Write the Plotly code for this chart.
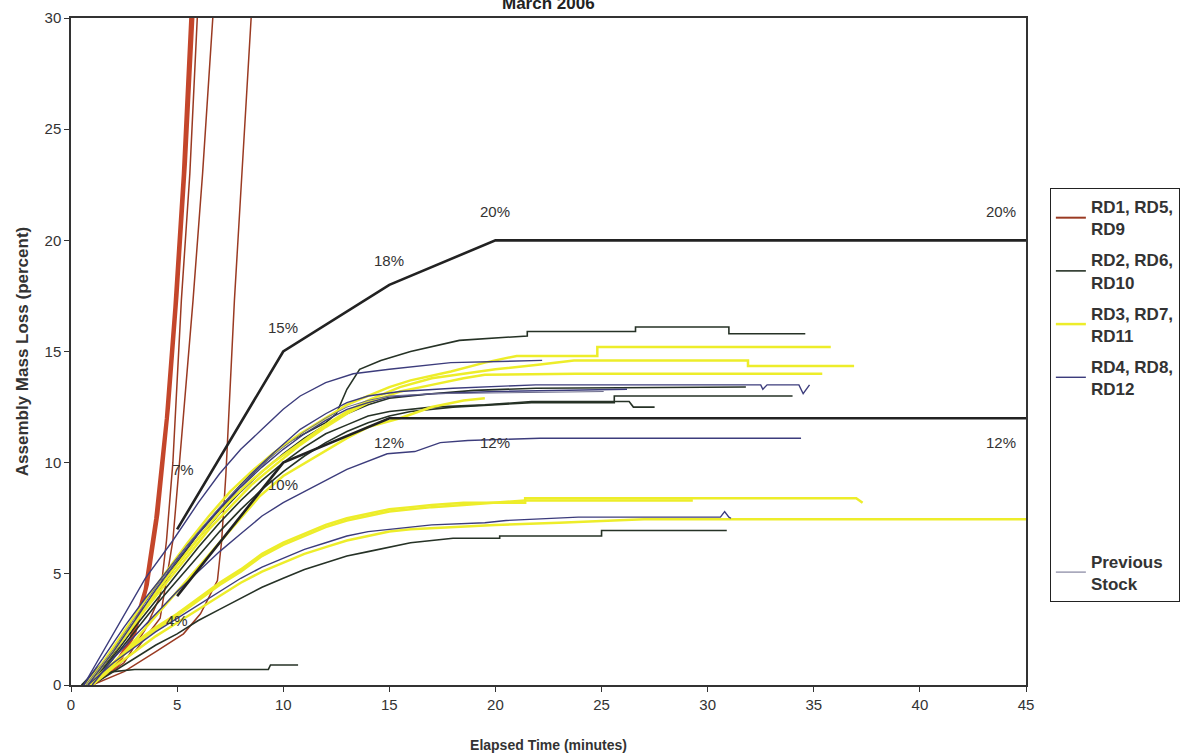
import plotly.graph_objects as go

# ---------------- data ----------------
# RD1, RD5, RD9 (red) : very steep curves
red1_x = [0.9, 2.0, 2.8, 3.5, 4.0, 4.5, 4.9, 5.3, 5.7]
red1_y = [0.0, 0.8, 2.0, 4.3, 7.5, 12.0, 17.0, 23.0, 31.0]
red2_x = [1.0, 2.2, 3.0, 3.6, 4.1, 4.6, 5.0, 5.4, 5.8]
red2_y = [0.0, 0.9, 2.3, 4.5, 7.7, 12.5, 17.5, 23.5, 31.0]
red3_x = [1.0, 2.5, 3.5, 4.2, 4.5, 4.8, 5.2, 5.6, 6.0]
red3_y = [0.0, 1.0, 2.5, 4.0, 6.5, 10.0, 17.3, 23.0, 31.0]
red4_x = [1.0, 3.0, 4.2, 4.8, 5.2, 5.75, 6.2, 6.75]
red4_y = [0.0, 1.5, 3.0, 6.5, 11.0, 17.3, 23.0, 31.0]
red5_x = [1.0, 2.5, 4.0, 5.3, 6.1, 6.9, 7.1, 7.3, 7.7, 8.1, 8.55]
red5_y = [0.0, 0.6, 1.5, 2.3, 3.2, 4.7, 6.5, 9.5, 17.3, 23.5, 31.0]

# RD2, RD6, RD10 (dark green)
grn_a_x = [0.5, 2, 4, 6, 8, 10, 12, 12.5, 13, 13.6, 14.6, 16, 18.3, 21.5, 21.5, 26.6, 26.6, 31, 31, 34.6]
grn_a_y = [0.0, 1.5, 4.2, 6.8, 9.0, 10.8, 11.8, 12.2, 13.3, 14.2, 14.6, 15.0, 15.5, 15.7, 15.9, 15.9, 16.1, 16.1, 15.8, 15.8]
grn_b_x = [1, 2, 3, 4, 5, 6, 7, 8, 9, 10, 11, 12, 13, 14, 15, 16, 18, 21.7, 25.6, 25.6, 34.0]
grn_b_y = [0.0, 1.2, 2.4, 3.6, 4.7, 5.8, 6.9, 7.9, 8.8, 9.6, 10.3, 10.9, 11.4, 11.8, 12.1, 12.3, 12.5, 12.7, 12.7, 13.0, 13.0]
grn_c_x = [0.9, 2, 3, 4, 5, 6, 7, 8, 9, 10, 11, 12, 13, 14, 15, 17, 19.5, 21.7, 26.3, 26.5, 27.5]
grn_c_y = [0.0, 1.3, 2.6, 3.8, 5.0, 6.2, 7.3, 8.3, 9.2, 10.0, 10.7, 11.3, 11.7, 12.1, 12.3, 12.5, 12.6, 12.75, 12.75, 12.5, 12.5]
grn_d_x = [0.8, 2, 3, 4, 5, 6, 7, 8, 9, 10, 11, 12, 13, 14, 15, 17, 19, 21.9, 31.8]
grn_d_y = [0.0, 1.4, 2.8, 4.1, 5.4, 6.6, 7.7, 8.7, 9.6, 10.4, 11.1, 11.7, 12.2, 12.6, 12.9, 13.1, 13.25, 13.35, 13.4]
grn_e_x = [1, 2, 3, 4, 5, 6, 7, 8, 9, 10, 11, 12, 13, 14, 15, 16, 17, 18, 20.2, 20.2, 25, 25, 30.9]
grn_e_y = [0.0, 0.6, 1.2, 1.8, 2.3, 2.9, 3.4, 3.9, 4.4, 4.8, 5.2, 5.5, 5.8, 6.0, 6.2, 6.4, 6.5, 6.6, 6.6, 6.7, 6.7, 6.95, 6.95]
grn_f_x = [0.5, 1.0, 1.5, 2.0, 3.0, 9.3, 9.4, 10.7]
grn_f_y = [0.0, 0.3, 0.5, 0.6, 0.7, 0.7, 0.9, 0.9]

# RD3, RD7, RD11 (yellow)
yel_a_x = [0.7, 1.5, 2.5, 3.5, 4.5, 5.5, 6.5, 7.5, 8.5, 9.5, 10.8, 12, 13, 14, 15, 16, 17.9, 19.5, 21, 24.8, 24.8, 35.8]
yel_a_y = [0.0, 1.0, 2.4, 3.8, 5.1, 6.4, 7.6, 8.7, 9.6, 10.4, 11.3, 12.0, 12.6, 13.0, 13.4, 13.7, 14.1, 14.5, 14.8, 14.8, 15.2, 15.2]
yel_b_x = [0.8, 1.5, 2.5, 3.5, 4.5, 5.5, 6.5, 7.5, 8.5, 9.5, 10.8, 12, 13, 14, 15.5, 17, 18.5, 20, 22, 23.7, 31.9, 31.9, 36.9]
yel_b_y = [0.0, 0.9, 2.2, 3.5, 4.8, 6.0, 7.2, 8.3, 9.2, 10.0, 10.9, 11.7, 12.3, 12.8, 13.4, 13.8, 14.0, 14.2, 14.4, 14.6, 14.6, 14.35, 14.35]
yel_c_x = [0.8, 1.5, 2.5, 3.5, 4.5, 5.5, 6.5, 7.5, 8.5, 9.5, 10.8, 12, 13, 14, 15.5, 17, 18.5, 19.5, 23.8, 35.4]
yel_c_y = [0.0, 0.9, 2.1, 3.4, 4.6, 5.8, 7.0, 8.0, 9.0, 9.8, 10.8, 11.6, 12.2, 12.7, 13.2, 13.5, 13.8, 13.95, 14.0, 14.0]
yel_d_x = [1, 2, 3, 4, 5, 6, 7, 8, 8.9, 10, 11.6, 13, 14, 15.5, 17, 18.5, 19.5]
yel_d_y = [0.0, 0.9, 2.0, 3.1, 4.2, 5.3, 6.4, 7.5, 8.5, 9.4, 10.3, 11.1, 11.6, 12.0, 12.5, 12.8, 12.9]
yel_e_x = [0.8, 2, 3, 4, 5, 6, 7, 8, 9, 10, 11, 12, 13, 14, 15, 16, 17, 18.5, 21.4, 21.4, 37.0, 37.3]
yel_e_y = [0.0, 1.0, 1.9, 2.6, 3.2, 3.9, 4.6, 5.2, 5.9, 6.4, 6.8, 7.2, 7.5, 7.7, 7.9, 8.0, 8.1, 8.2, 8.2, 8.4, 8.4, 8.2]
yel_f_x = [0.9, 2, 3, 4, 5, 6, 7, 8, 9, 10, 11, 12, 13, 14, 15, 16, 17, 18.5, 21.4, 29.3]
yel_f_y = [0.0, 0.95, 1.8, 2.5, 3.1, 3.8, 4.5, 5.1, 5.8, 6.3, 6.7, 7.1, 7.4, 7.6, 7.8, 7.9, 8.0, 8.1, 8.3, 8.3]
yel_g_x = [1, 2, 3, 4, 5, 6, 7, 8, 9, 10, 11, 12, 13, 14, 15, 16, 18, 20, 23, 27, 45]
yel_g_y = [0.0, 0.8, 1.5, 2.2, 2.8, 3.4, 4.0, 4.6, 5.1, 5.5, 5.9, 6.2, 6.5, 6.7, 6.9, 7.0, 7.1, 7.2, 7.3, 7.45, 7.45]

# RD4, RD8, RD12 (navy)
nav_a_x = [0.6, 1.5, 2.5, 3.5, 4.8, 6, 7, 8, 9, 10, 10.8, 12, 13.3, 15, 17.9, 22.2]
nav_a_y = [0.0, 1.5, 3.2, 4.8, 6.5, 8.2, 9.5, 10.6, 11.5, 12.4, 13.0, 13.6, 14.0, 14.2, 14.5, 14.6]
nav_b_x = [0.6, 1.5, 2.5, 3.5, 4.5, 5.5, 6.5, 7.5, 8.5, 9.5, 10.8, 12, 13, 14, 15.5, 18, 21.9, 32.5, 32.6, 32.8, 34.3, 34.5, 34.8]
nav_b_y = [0.0, 1.2, 2.6, 3.9, 5.1, 6.3, 7.4, 8.5, 9.5, 10.4, 11.5, 12.2, 12.7, 13.0, 13.2, 13.35, 13.5, 13.5, 13.3, 13.5, 13.5, 13.1, 13.5]
nav_c_x = [0.8, 2, 3, 4, 5, 6, 7, 8, 9, 10, 11, 12, 13, 14, 15, 17, 20, 26.2]
nav_c_y = [0.0, 1.5, 2.9, 4.3, 5.6, 6.8, 7.9, 8.9, 9.8, 10.6, 11.3, 11.9, 12.4, 12.7, 12.95, 13.1, 13.2, 13.3]
nav_d_x = [1, 2, 3, 4, 5, 6, 7, 8, 9, 10, 11, 11.6, 13, 14.9, 16.2, 17.4, 18.7, 22.1, 34.4]
nav_d_y = [0.0, 1.2, 2.2, 3.2, 4.2, 5.1, 6.0, 6.8, 7.6, 8.2, 8.7, 9.0, 9.7, 10.4, 10.5, 10.9, 11.0, 11.1, 11.1]
nav_e_x = [0.8, 2, 3, 4, 5, 6, 7, 8, 9, 10, 11, 12, 13, 14, 15, 17, 19.5, 20.5, 23.9, 30.6, 30.8, 31.0, 31.1]
nav_e_y = [0.0, 1.0, 1.7, 2.4, 3.0, 3.6, 4.2, 4.8, 5.3, 5.7, 6.1, 6.4, 6.7, 6.9, 7.0, 7.2, 7.3, 7.4, 7.55, 7.55, 7.8, 7.55, 7.5]

# Previous stock
prev_x = [0.7, 2, 3, 4, 5, 6, 7, 8, 9, 10, 11, 12, 13, 14, 15, 17, 25.1]
prev_y = [0.0, 1.6, 3.0, 4.4, 5.7, 6.9, 8.0, 9.0, 9.9, 10.7, 11.4, 12.0, 12.5, 12.8, 13.0, 13.1, 13.2]

# Limit lines
upper_x = [5, 10, 15, 20, 45]
upper_y = [7, 15, 18, 20, 20]
lower_x = [5, 10, 15, 20, 45]
lower_y = [4, 10, 12, 12, 12]
upper_labels = ["7%", "15%", "18%", "20%", "20%"]
lower_labels = ["4%", "10%", "12%", "12%", "12%"]

# ---------------- figure ----------------
FONT = "Liberation Sans, Arial, sans-serif"
C_RED = "#C4462B"
C_RED_THIN = "#9A3A22"
C_GRN = "#263226"
C_YEL = "#EDED2A"
C_NAV = "#3C3C7C"
C_PREV = "#6B6B8C"

fig = go.Figure()

def add(x, y, color, width, group, name=None, legend=False):
    fig.add_trace(go.Scatter(x=x, y=y, mode="lines", line=dict(color=color, width=width),
                             name=name if name else "", showlegend=legend, legendgroup=group,
                             hoverinfo="skip"))

add(red3_x, red3_y, C_RED_THIN, 1.5, "g1")
add(red4_x, red4_y, C_RED_THIN, 1.5, "g1")
add(red5_x, red5_y, C_RED_THIN, 1.5, "g1")
add(red2_x, red2_y, C_RED, 3, "g1")
add(red1_x, red1_y, C_RED, 3.5, "g1")
fig.add_trace(go.Scatter(x=[None], y=[None], mode="lines", line=dict(color=C_RED_THIN, width=2),
                         name="<b>RD1, RD5,<br>RD9</b>", legendgroup="g1", showlegend=True))

add(grn_a_x, grn_a_y, C_GRN, 1.6, "g2", "<b>RD2, RD6,<br>RD10</b>", True)
for gx, gy in [(grn_b_x, grn_b_y), (grn_c_x, grn_c_y), (grn_d_x, grn_d_y), (grn_e_x, grn_e_y), (grn_f_x, grn_f_y)]:
    add(gx, gy, C_GRN, 1.6, "g2")

add(yel_a_x, yel_a_y, C_YEL, 2.5, "g3", "<b>RD3, RD7,<br>RD11</b>", True)
for yx, yy in [(yel_b_x, yel_b_y), (yel_c_x, yel_c_y), (yel_d_x, yel_d_y), (yel_e_x, yel_e_y),
               (yel_f_x, yel_f_y), (yel_g_x, yel_g_y)]:
    add(yx, yy, C_YEL, 2.5, "g3")

add(nav_a_x, nav_a_y, C_NAV, 1.4, "g4", "<b>RD4, RD8,<br>RD12</b>", True)
for nx, ny in [(nav_b_x, nav_b_y), (nav_c_x, nav_c_y), (nav_d_x, nav_d_y), (nav_e_x, nav_e_y)]:
    add(nx, ny, C_NAV, 1.4, "g4")

# blank legend spacer (gap before "Previous Stock")
fig.add_trace(go.Scatter(x=[None], y=[None], mode="lines", line=dict(width=0, color="rgba(0,0,0,0)"),
                         name="<br><br><br><br><br>", legendgroup="g5", showlegend=True, hoverinfo="skip"))

add(prev_x, prev_y, C_PREV, 1.0, "g6", "<b>Previous<br>Stock</b>", True)

add(upper_x, upper_y, "#222222", 2.6, "g7")
add(lower_x, lower_y, "#222222", 2.6, "g7")

LAB = dict(family=FONT, size=15, color="#333333")
annots = []
up_pos = [(5.3, 9.7), (10, 16.1), (15, 19.1), (20, 21.3), (43.8, 21.3)]
lo_pos = [(5, 2.9), (10, 9.0), (15, 10.9), (20, 10.9), (43.8, 10.9)]
for (px, py), t in zip(up_pos, upper_labels):
    annots.append(dict(x=px, y=py, text=t, showarrow=False, font=LAB))
for (px, py), t in zip(lo_pos, lower_labels):
    annots.append(dict(x=px, y=py, text=t, showarrow=False, font=LAB))

annots.append(dict(xref="paper", yref="paper", x=0.5, y=1.022, yanchor="middle",
                   text="<b>March 2006</b>", showarrow=False,
                   font=dict(family=FONT, size=17, color="#222222")))

fig.update_layout(
    width=1201, height=754,
    margin=dict(l=71, r=175, t=18, b=69),
    paper_bgcolor="white", plot_bgcolor="white",
    font=dict(family=FONT, size=14, color="#333333"),
    annotations=annots,
    legend=dict(x=1.025, y=0.745, xanchor="left", yanchor="top",
                bgcolor="white", bordercolor="#222222", borderwidth=1,
                font=dict(family=FONT, size=17, color="#333333"),
                traceorder="grouped", tracegroupgap=6, itemwidth=30),
)
fig.update_xaxes(range=[0, 45], tickmode="array", tickvals=[0, 5, 10, 15, 20, 25, 30, 35, 40, 45],
                 ticks="outside", ticklen=5, tickcolor="#333", showgrid=False, zeroline=False,
                 showline=True, linecolor="#333", linewidth=1.5, mirror=True, automargin=False,
                 title=dict(text="<b>Elapsed Time (minutes)</b>", font=dict(family=FONT, size=14), standoff=28),
                 tickfont=dict(family=FONT, size=15, color="#333"))
fig.update_yaxes(range=[0, 30], tickmode="array", tickvals=[0, 5, 10, 15, 20, 25, 30],
                 ticks="outside", ticklen=5, tickcolor="#333", showgrid=False, zeroline=False,
                 showline=True, linecolor="#333", linewidth=1.5, mirror=True, automargin=False,
                 title=dict(text="<b>Assembly Mass Loss (percent)</b>", font=dict(family=FONT, size=17), standoff=12),
                 tickfont=dict(family=FONT, size=15, color="#333"))

fig.write_html("out.html", config={"displayModeBar": False},
               post_script="document.body.style.margin='0';document.body.style.overflow='hidden';")
